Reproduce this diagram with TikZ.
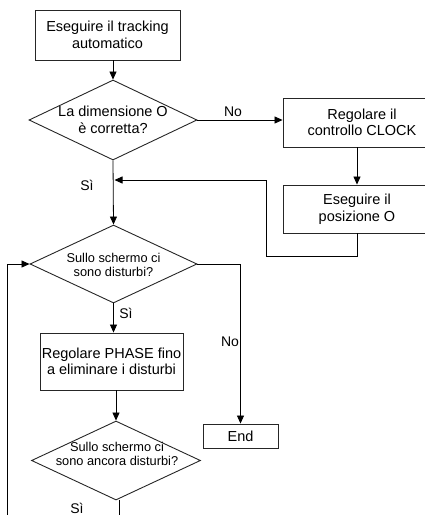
\documentclass[tikz,border=0pt]{standalone}
\usepackage{fontspec}
\setmainfont{Liberation Sans}
\usetikzlibrary{shapes.geometric,arrows.meta}
\begin{document}
\begin{tikzpicture}[x=1pt,y=-1pt,
  every path/.style={line width=0.8pt},
  box/.style={draw=black!85,line width=0.9pt,inner sep=0pt,align=center,font=\fontsize{14.5}{16.5}\selectfont},
  dia/.style={draw=black!85,line width=0.9pt,diamond,inner sep=0pt},
  dtext/.style={align=center,inner sep=0pt},
  big/.style={font=\fontsize{14.5}{16.5}\selectfont},
  small/.style={font=\fontsize{12.8}{14.5}\selectfont},
  lbl/.style={font=\fontsize{14}{16}\selectfont,inner sep=0pt},
  arr/.style={-{Triangle[length=8pt,width=7pt]}}]
\useasboundingbox (0,0) rectangle (425,515);
% nodes
\node[box,minimum width=145,minimum height=50] (b1) at (107.5,35) {Eseguire il tracking\\automatico};
\node[dia,minimum width=168,minimum height=80] (d1) at (113,120) {};
\node[dtext,big] (t1) at (113,120) {La dimensione O\\è corretta?};
\node[box,minimum width=158,minimum height=49] (b2) at (362,122.5) {Regolare il\\controllo CLOCK};
\node[box,minimum width=148,minimum height=48] (b3) at (357,209) {Eseguire il\\posizione O};
\node[dia,minimum width=167,minimum height=78] (d2) at (113.5,264) {};
\node[dtext,small] (t2) at (113.5,265) {Sullo schermo ci\\sono disturbi?};
\node[box,minimum width=143,minimum height=57] (b4) at (111.5,361.5) {Regolare PHASE fino\\a eliminare i disturbi};
\node[dia,minimum width=169,minimum height=79] (d3) at (116,460.5) {};
\node[dtext,small] (t3) at (117,454) {Sullo schermo ci\\sono ancora disturbi?};
\node[box,minimum width=75,minimum height=24] (be) at (240.5,436) {End};
% labels
\node[lbl] (lno1) at (233,112) {No};
\node[lbl] (lsi1) at (87,185) {Sì};
\node[lbl] (lsi2) at (126,313) {Sì};
\node[lbl] (lno2) at (230,342) {No};
\node[lbl] (lsi3) at (77,508) {Sì};
% coordinates
\coordinate (j1) at (113,180);
\coordinate (r1) at (266,256);
\coordinate (bl) at (7,520);
\coordinate (bb) at (119,520);
% connectors
\draw[arr] (b1.south -| d1.north) -- (d1.north);
\draw[arr] (d1.east) -- (b2.west |- d1.east);
\draw[arr] (b3.north |- b2.south) -- (b3.north);
\draw[arr,shorten >=1.5pt] (b3.south) |- (r1) |- (j1);
\draw[arr] (d1.south) -- (d2.north);
\draw[arr] (d2.east) -| (be.north);
\draw[arr] (d2.south) -- (b4.north -| d2.south);
\draw[arr] (d3.north |- b4.south) -- (d3.north);
\draw ([xshift=3pt]d3.south) -- (bb);
\draw[arr] (bl) |- (d2.west);
\end{tikzpicture}
\end{document}
